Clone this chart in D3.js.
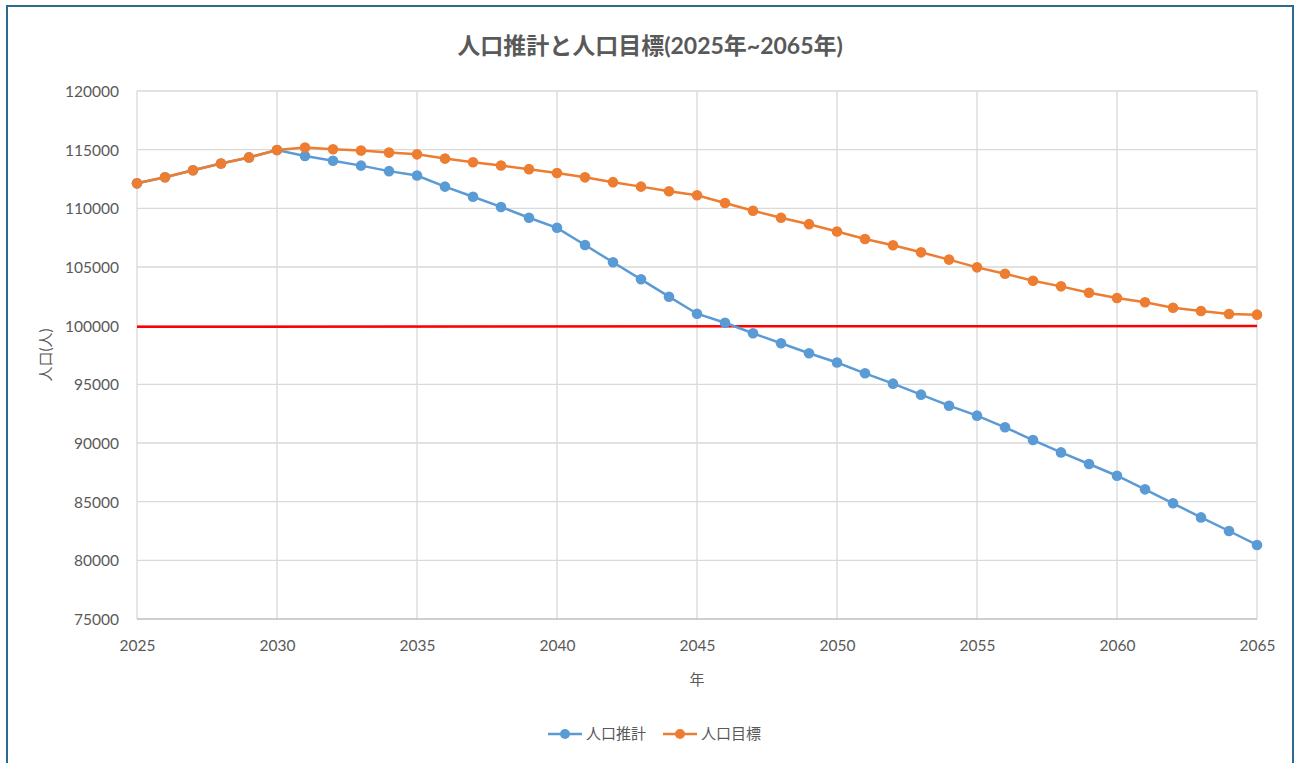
<!DOCTYPE html>
<html>
<head>
<meta charset="utf-8">
<script src="https://cdn.jsdelivr.net/npm/d3@7"></script>
<style>
  body { margin: 0; background: #fff; }
  text { font-family: Lato, "Noto Sans CJK JP", sans-serif; fill: #595959; }
</style>
</head>
<body>
<div id="chart"></div>
<script>
var years = d3.range(2025, 2066);

// 人口推計
var estimate = [112130, 112650, 113250, 113820, 114340, 114970,
	114460, 114060, 113640, 113170, 112800, 111850, 110990, 110120, 109200, 108340,
	106870, 105400, 103950, 102470, 101020, 100250, 99350, 98500, 97650, 96860,
	95940, 95060, 94120, 93180, 92330, 91340, 90250, 89200, 88210, 87210,
	86050, 84860, 83660, 82500, 81310];

// 人口目標
var target = [112130, 112650, 113250, 113820, 114340, 114970,
	115180, 115040, 114920, 114750, 114600, 114240, 113930, 113650, 113340, 113010,
	112640, 112230, 111850, 111450, 111110, 110460, 109800, 109200, 108650, 108030,
	107390, 106850, 106250, 105630, 104970, 104430, 103830, 103350, 102810, 102360,
	101990, 101530, 101250, 100990, 100940];

// red reference line
var goalLine = [[2025, 99910], [2065, 99970]];

var yTicks = d3.range(75000, 120001, 5000);
var xTicks = d3.range(2025, 2066, 5);

var series = [
	{ name: '人口推計', color: '#5b9bd5', values: estimate },
	{ name: '人口目標', color: '#ed7d31', values: target }
];

function drawChart() {
	var width = 1298, height = 763;
	var pLeft = 137, pRight = 1257, pTop = 91, pBottom = 619;

	var svg = d3.select('#chart').append('svg')
		.attr('width', width).attr('height', height);

	// outer frame
	svg.append('rect')
		.attr('x', 7).attr('y', 6)
		.attr('width', 1286).attr('height', 770)
		.attr('fill', '#fff')
		.attr('stroke', '#2c6a92').attr('stroke-width', 2);

	var x = d3.scaleLinear().domain([2025, 2065]).range([pLeft, pRight]);
	var y = d3.scaleLinear().domain([75000, 120000]).range([pBottom, pTop]);

	// gridlines
	svg.append('g').selectAll('line').data(yTicks.slice(1)).enter().append('line')
		.attr('x1', pLeft).attr('x2', pRight)
		.attr('y1', function (d) { return y(d); }).attr('y2', function (d) { return y(d); })
		.attr('stroke', '#d9d9d9').attr('stroke-width', 1.3);

	svg.append('g').selectAll('line').data(xTicks).enter().append('line')
		.attr('y1', pTop).attr('y2', pBottom)
		.attr('x1', function (d) { return x(d); }).attr('x2', function (d) { return x(d); })
		.attr('stroke', '#d9d9d9').attr('stroke-width', 1.3);

	// bottom axis line
	svg.append('line')
		.attr('x1', pLeft).attr('x2', pRight).attr('y1', pBottom).attr('y2', pBottom)
		.attr('stroke', '#bfbfbf').attr('stroke-width', 1.5);

	// axes (labels only)
	var yAxis = svg.append('g').attr('transform', 'translate(' + (pLeft - 18) + ',0)')
		.call(d3.axisLeft(y).tickValues(yTicks).tickSize(0).tickPadding(0).tickFormat(d3.format('d')));
	var xAxis = svg.append('g').attr('transform', 'translate(0,' + (pBottom + 20) + ')')
		.call(d3.axisBottom(x).tickValues(xTicks).tickSize(0).tickPadding(0).tickFormat(d3.format('d')));

	[yAxis, xAxis].forEach(function (a) {
		a.select('.domain').remove();
		a.selectAll('text').attr('font-size', 15.5).attr('fill', '#595959')
			.style('font-family', 'Lato, sans-serif');
	});
	yAxis.selectAll('text').attr('dy', '0.35em');
	xAxis.selectAll('text').attr('dy', '0.75em');

	// red line
	svg.append('path')
		.datum(goalLine)
		.attr('d', d3.line().x(function (d) { return x(d[0]); }).y(function (d) { return y(d[1]); }))
		.attr('fill', 'none').attr('stroke', '#ff0000').attr('stroke-width', 2.5);

	// series (目標 drawn last, on top)
	var line = d3.line()
		.x(function (d, i) { return x(years[i]); })
		.y(function (d) { return y(d); });

	series.forEach(function (s) {
		var g = svg.append('g');
		g.append('path').datum(s.values).attr('d', line)
			.attr('fill', 'none').attr('stroke', s.color).attr('stroke-width', 2.5);
		g.selectAll('circle').data(s.values).enter().append('circle')
			.attr('cx', function (d, i) { return x(years[i]); })
			.attr('cy', function (d) { return y(d); })
			.attr('r', 5.3)
			.attr('fill', s.color);
	});

	// title
	svg.append('text')
		.attr('x', 650).attr('y', 54)
		.attr('text-anchor', 'middle')
		.attr('font-size', 23).attr('font-weight', 'bold')
		.text('人口推計と人口目標(2025年~2065年)');

	// axis titles
	svg.append('text')
		.attr('transform', 'translate(51,' + ((pTop + pBottom) / 2) + ') rotate(-90)')
		.attr('text-anchor', 'middle')
		.attr('font-size', 15)
		.text('人口(人)');

	svg.append('text')
		.attr('x', x(2045)).attr('y', 685)
		.attr('text-anchor', 'middle')
		.attr('font-size', 15)
		.text('年');

	// legend
	var legend = svg.append('g').attr('transform', 'translate(548,734)');
	var item = legend.selectAll('g').data(series).enter().append('g')
		.attr('transform', function (d, i) { return 'translate(' + (i * 115) + ',0)'; });
	item.append('line').attr('x1', 0).attr('x2', 34)
		.attr('stroke', function (d) { return d.color; }).attr('stroke-width', 2.5);
	item.append('circle').attr('cx', 17).attr('r', 5)
		.attr('fill', function (d) { return d.color; });
	item.append('text').attr('x', 38).attr('dy', '0.35em')
		.attr('font-size', 15)
		.text(function (d) { return d.name; });
}

drawChart();
</script>
</body>
</html>
